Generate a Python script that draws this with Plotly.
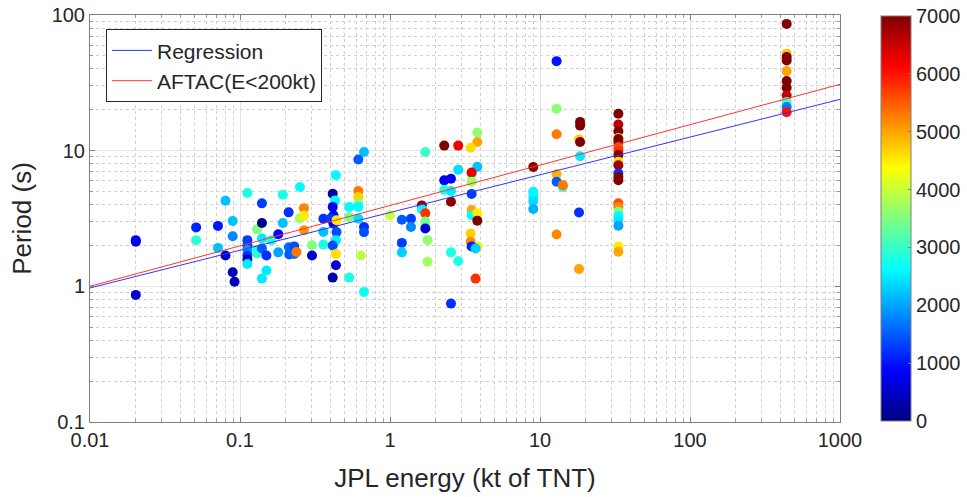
import numpy as np
import plotly.graph_objects as go

# ---------------- data ----------------
energy = [0.0202, 0.0202, 0.0202, 0.051, 0.051, 0.0713, 0.0713, 0.080, 0.080, 0.0894,
          0.0894, 0.0894, 0.092, 0.112, 0.112, 0.112, 0.112, 0.112, 0.112, 0.112,
          0.13, 0.13, 0.13, 0.14, 0.14, 0.14, 0.14, 0.15, 0.15, 0.14,
          0.162, 0.18, 0.18, 0.193, 0.193, 0.211, 0.212, 0.213, 0.23, 0.23,
          0.238, 0.251, 0.251, 0.267, 0.267, 0.267, 0.302, 0.302, 0.36, 0.36,
          0.36, 0.436, 0.415, 0.43, 0.415, 0.42, 0.40, 0.42, 0.44, 0.44,
          0.436, 0.415, 0.436, 0.436, 0.415, 0.535, 0.535, 0.535, 0.671, 0.615,
          0.615, 0.615, 0.615, 0.615, 0.615, 0.671, 0.671, 0.64, 0.671, 1.0,
          1.2, 1.2, 1.2, 1.38, 1.38, 1.72, 1.63, 1.63, 1.72, 1.72,
          1.72, 1.72, 1.78, 1.78, 2.3, 2.85, 2.3, 2.55, 2.3, 2.55,
          2.55, 2.85, 2.55, 2.85, 2.55, 3.82, 3.82, 3.45, 3.82, 3.5,
          3.5, 3.5, 3.5, 3.5, 3.5, 3.82, 3.82, 3.45, 3.45, 3.82,
          3.5, 3.72, 3.72, 9.02, 9.02, 9.02, 9.02, 9.02, 12.9, 12.9,
          12.9, 12.9, 12.9, 14.2, 14.2, 12.9, 18.5, 18.5, 18.2, 18.5,
          18.5, 18.2, 18.2, 33.3, 33.3, 33.3, 33.3, 33.3, 33.3, 33.3,
          33.3, 33.3, 33.3, 33.3, 33.3, 33.3, 33.3, 33.3, 33.3, 33.3,
          33.3, 33.3, 33.3, 33.3, 33.3, 441, 441, 441, 441, 441,
          441, 441, 441, 441, 441, 441]

period = [2.19, 2.13, 0.865, 2.72, 2.19, 2.79, 1.92, 4.28, 1.69, 3.03,
          2.34, 1.27, 1.08, 4.87, 2.19, 2.0, 1.85, 1.69, 1.57, 1.46,
          2.63, 1.85, 1.75, 4.09, 2.93, 2.25, 1.9, 1.69, 1.31, 1.14,
          2.19, 2.42, 1.78, 4.74, 2.93, 3.51, 1.94, 1.72, 1.97, 1.73,
          1.79, 5.4, 3.17, 3.77, 3.32, 2.59, 2.01, 1.69, 3.15, 2.52,
          2.03, 6.58, 4.82, 4.3, 3.85, 3.34, 3.15, 2.9, 3.07, 2.51,
          2.19, 2.0, 1.73, 1.43, 1.16, 3.85, 3.24, 1.16, 9.77, 8.6,
          5.04, 4.55, 4.1, 3.85, 3.15, 2.74, 2.51, 1.69, 0.91, 3.34,
          3.1, 2.09, 1.78, 3.15, 2.74, 9.77, 3.95, 3.7, 3.45, 3.0,
          2.8, 2.67, 2.19, 1.52, 10.9, 10.9, 6.04, 6.2, 5.13, 5.04,
          4.2, 7.24, 1.78, 1.53, 0.746, 13.6, 11.6, 10.5, 7.6, 6.7,
          6.9, 5.9, 4.8, 3.65, 3.34, 3.45, 3.05, 2.45, 2.13, 1.97,
          1.97, 1.9, 1.14, 7.57, 4.98, 4.6, 4.26, 3.72, 45.7, 20.4,
          13.2, 6.7, 5.9, 5.4, 5.57, 2.41, 16.3, 15.3, 12.1, 11.6,
          9.1, 3.5, 1.34, 18.7, 15.6, 13.9, 12.4, 12.2, 11.6, 10.6,
          10.0, 9.3, 8.3, 7.8, 6.8, 6.4, 6.05, 4.1, 3.85, 3.55,
          3.3, 3.1, 2.8, 1.97, 1.8, 86, 51.8, 49, 46.2, 38.6,
          32.6, 29.1, 25.5, 22.8, 21, 19.2]

colour_value = [700, 800, 600, 1100, 2900, 1000, 2200, 2200, 500, 2200,
                1800, 400, 300, 2800, 1300, 1300, 1900, 1200, 500, 2500,
                3500, 2800, 2900, 1300, 100, 2500, 1500, 1200, 2500, 2500,
                2800, 900, 2000, 2800, 2200, 1200, 1600, 1500, 1400, 1600,
                5300, 2600, 3700, 5200, 4500, 5100, 3500, 500, 1200, 2200,
                2800, 2600, 200, 2600, 800, 900, 1300, 700, 4500, 1400,
                2500, 1400, 4600, 600, 300, 2600, 3400, 2800, 2200, 1500,
                5300, 4700, 3600, 2600, 2400, 1200, 1400, 3900, 2700, 4000,
                1500, 1300, 2300, 1300, 1800, 3000, 6800, 2600, 5800, 3500,
                3300, 600, 3600, 3700, 7000, 6200, 800, 800, 2800, 2500,
                6900, 2400, 2800, 2800, 1200, 3600, 5000, 4600, 2200, 3300,
                6300, 3700, 1300, 5000, 2600, 4500, 7000, 4700, 5200, 4500,
                1100, 2300, 5800, 6900, 2600, 2600, 2400, 2100, 1000, 3600,
                5300, 4900, 1500, 2900, 5300, 5200, 7000, 7000, 4700, 7000,
                2500, 1200, 5000, 7000, 6600, 7000, 4600, 7000, 7000, 5500,
                5800, 7000, 4600, 6800, 1200, 7000, 7000, 5600, 5200, 3500,
                2600, 2500, 2000, 4500, 5000, 7000, 4800, 7000, 7000, 5000,
                7000, 7000, 6500, 3000, 1700, 6000]

# fitted relations: log10(P) = a + b*log10(E)
regression_coef = [0.544, 0.278]
aftac_coef = [0.596, 0.2977]

x_tick_vals = [0.01, 0.1, 1, 10, 100, 1000]
x_tick_text = ["0.01", "0.1", "1", "10", "100", "1000"]
y_tick_vals = [0.1, 1, 10, 100]
y_tick_text = ["0.1", "1", "10", "100"]
cbar_ticks = [0, 1000, 2000, 3000, 4000, 5000, 6000, 7000]

# ---------------- figure ----------------
jet = [[0.0, "rgb(0,0,128)"], [0.125, "rgb(0,0,255)"], [0.375, "rgb(0,255,255)"],
       [0.625, "rgb(255,255,0)"], [0.875, "rgb(255,0,0)"], [1.0, "rgb(128,0,0)"]]

FONT = "Liberation Sans, Arial, Helvetica, sans-serif"
TXT = "#262626"
W, H = 967, 497


def minor_vals(decades):
    return [m * d for d in decades for m in range(2, 10)]


x_minor = minor_vals(x_tick_vals[:-1])
y_minor = minor_vals(y_tick_vals[:-1])

fig = go.Figure()

fig.add_trace(go.Scatter(
    x=energy, y=period, mode="markers", showlegend=False,
    marker=dict(size=10, color=colour_value, colorscale=jet, cmin=0, cmax=7000,
                line=dict(width=0),
                colorbar=dict(x=1.0547, xanchor="left", y=0.5, yanchor="middle",
                              len=0.994, lenmode="fraction", thickness=30,
                              xpad=0, ypad=0,
                              outlinecolor="#7f7f7f", outlinewidth=1,
                              tickvals=cbar_ticks, ticks="inside", ticklen=3,
                              tickcolor="#7f7f7f",
                              tickfont=dict(size=20, color=TXT, family=FONT))),
))

xl = np.logspace(-2, 3, 50)
for coef, name, col in [(regression_coef, "Regression", "#3333ff"),
                        (aftac_coef, "AFTAC(E<200kt)", "#ff3333")]:
    yl = 10 ** (coef[0] + coef[1] * np.log10(xl))
    fig.add_trace(go.Scatter(x=xl, y=yl, mode="lines", name=name,
                             line=dict(color=col, width=1)))

axis_common = dict(
    type="log", showline=True, linecolor="#7f7f7f", linewidth=1, mirror="ticks",
    ticks="inside", ticklen=5, tickcolor="#7f7f7f",
    showgrid=True, gridcolor="#e3e3e3", gridwidth=1, zeroline=False,
    tickfont=dict(size=20, color=TXT, family=FONT),
)

fig.update_xaxes(range=[-2, 3], tickvals=x_tick_vals, ticktext=x_tick_text,
                 minor=dict(tickvals=x_minor, ticks="inside", ticklen=3, tickcolor="#9a9a9a",
                            showgrid=True, gridcolor="#d0d0d0", griddash="dot", gridwidth=1),
                 title=dict(text="JPL energy (kt of TNT)", standoff=18,
                            font=dict(size=26, color=TXT, family=FONT)),
                 **axis_common)
fig.update_yaxes(range=[-1, 2], tickvals=y_tick_vals, ticktext=y_tick_text,
                 minor=dict(tickvals=y_minor, ticks="inside", ticklen=3, tickcolor="#9a9a9a",
                            showgrid=True, gridcolor="#d0d0d0", griddash="dot", gridwidth=1),
                 title=dict(text="Period (s)", standoff=12,
                            font=dict(size=26, color=TXT, family=FONT)),
                 **axis_common)

fig.update_layout(
    width=W, height=H,
    margin=dict(l=90, r=127, t=15, b=75, autoexpand=False),
    paper_bgcolor="white", plot_bgcolor="white",
    font=dict(family=FONT, color=TXT),
    legend=dict(x=0.0213, y=0.965, xanchor="left", yanchor="top",
                bgcolor="white", bordercolor=TXT, borderwidth=1,
                font=dict(size=21, color=TXT, family=FONT),
                itemwidth=40, tracegroupgap=0),
)

fig.write_html("out.html")
